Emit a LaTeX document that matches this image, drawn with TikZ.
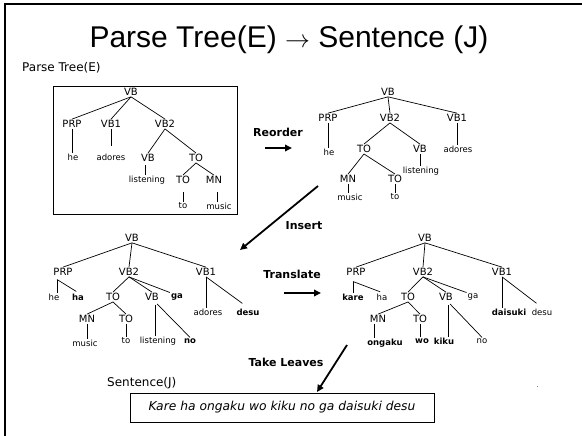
\documentclass[tikz,border=0pt]{standalone}
\usepackage{fontspec}
\setmainfont{DejaVu Sans}
\newfontfamily\headfont{Liberation Sans}
\usetikzlibrary{arrows.meta}
\begin{document}
\begin{tikzpicture}[x=1pt,y=-1pt,
  lbl/.style={inner sep=1pt,font=\fontsize{10}{11}\selectfont},
  leaf/.style={inner sep=1pt,font=\fontsize{8.5}{10}\selectfont},
  bleaf/.style={inner sep=1pt,font=\fontsize{8.5}{10}\selectfont\bfseries},
  opname/.style={inner sep=1pt,font=\fontsize{11}{13}\selectfont\bfseries},
  edge/.style={line width=0.7pt},
  bigarrow/.style={line width=1.8pt,-{Triangle[length=7pt,width=6.5pt]}}]
\useasboundingbox (0,0) rectangle (582,436);
% slide frame
\draw[line width=2pt] (5,436) -- (5,3.7) -- (582,3.7);
% title
\node[inner sep=0] (title) at (289,40) {\headfont\fontsize{30}{34}\selectfont Parse Tree(E) $\rightarrow$ Sentence (J)};
\node[inner sep=0,anchor=west,font=\fontsize{12}{14}\selectfont] (srclbl) at (22,68) {Parse Tree(E)};

% ---------- English parse tree ----------
\draw[line width=0.8pt] (53,86) rectangle (237,214);
\node[lbl] (a) at (131,92) {VB};
\node[lbl] (aprp) at (72,124) {PRP};
\node[lbl] (avbone) at (111,124) {VB1};
\node[lbl] (avbtwo) at (165,124) {VB2};
\node[leaf] (ahe) at (73,157) {he};
\node[leaf] (aadores) at (111,157) {adores};
\node[lbl] (avb) at (148,158) {VB};
\node[lbl] (ato) at (196,158) {TO};
\node[leaf] (alist) at (147,180) {listening};
\node[lbl] (atotwo) at (183,180) {TO};
\node[lbl] (amn) at (214,180) {MN};
\node[leaf] (ato3) at (183,206) {to};
\node[leaf] (amusic) at (219,206) {music};
\draw[edge] (a.south) -- (aprp.north);
\draw[edge] (a.south) -- (avbone.north);
\draw[edge] (a.south) -- (avbtwo.north);
\draw[edge] (aprp.south) -- (aprp.south |- ahe.north);
\draw[edge,shorten >=7pt] (avbone.south) -- (avbone.south |- aadores.north);
\draw[edge] (avbtwo.south) -- (avb.north);
\draw[edge] (avbtwo.south) -- (ato.north);
\draw[edge,shorten <=2pt] ([xshift=-3pt]avb.south) -- ([xshift=-3pt]avb.south |- alist.north);
\draw[edge] (ato.south) -- (atotwo.north);
\draw[edge] (ato.south) -- (amn.north);
\draw[edge,shorten <=7pt] (atotwo.south) -- (atotwo.south |- ato3.north);
\draw[edge,shorten <=7pt] ([xshift=3pt]amn.south) -- ([xshift=3pt]amn.south |- amusic.north);

% ---------- reordered tree ----------
\node[lbl] (b) at (388,92) {VB};
\node[lbl] (bprp) at (328,118) {PRP};
\node[lbl] (bvbtwo) at (390,118) {VB2};
\node[lbl] (bvbone) at (457,118) {VB1};
\node[leaf] (bhe) at (329,152) {he};
\node[lbl] (bto) at (364,149) {TO};
\node[lbl] (bvb) at (420,149) {VB};
\node[leaf] (badores) at (458,149) {adores};
\node[lbl] (bmn) at (348,179) {MN};
\node[lbl] (btotwo) at (395,179) {TO};
\node[leaf] (blist) at (421,171) {listening};
\node[leaf] (bmusic) at (350,197) {music};
\node[leaf] (bto3) at (395,197) {to};
\draw[edge] (b.south) -- (bprp.north);
\draw[edge] (b.south) -- (bvbtwo.north);
\draw[edge] (b.south) -- (bvbone.north);
\draw[edge] (bprp.south) -- (bprp.south |- bhe.north);
\draw[edge] (bvbtwo.south) -- (bto.north);
\draw[edge] (bvbtwo.south) -- (bvb.north);
\draw[edge] (bvbone.south) -- (bvbone.south |- badores.north);
\draw[edge] (bvb.south) -- (bvb.south |- blist.north);
\draw[edge] (bto.south) -- (bmn.north);
\draw[edge] (bto.south) -- (btotwo.north);
\draw[edge] (bmn.south) -- (bmn.south |- bmusic.north);
\draw[edge] (btotwo.south) -- (btotwo.south |- bto3.north);

% ---------- tree with inserted particles ----------
\node[lbl] (c) at (132,238) {VB};
\node[lbl] (cprp) at (63,272) {PRP};
\node[lbl] (cvbtwo) at (129,272) {VB2};
\node[lbl] (cvbone) at (206,272) {VB1};
\node[leaf] (che) at (54,297) {he};
\node[bleaf] (cha) at (78,297) {ha};
\node[lbl] (cto) at (113,297) {TO};
\node[lbl] (cvb) at (152,297) {VB};
\node[bleaf] (cga) at (177,297) {ga};
\node[leaf] (cadores) at (208,312) {adores};
\node[bleaf] (cdesu) at (248,312) {desu};
\node[lbl] (cmn) at (87,319) {MN};
\node[lbl] (ctotwo) at (126,319) {TO};
\node[leaf] (cmusic) at (85,343) {music};
\node[leaf] (cto3) at (126,341) {to};
\node[leaf] (clist) at (158,341) {listening};
\node[bleaf] (cno) at (190,341) {no};
\draw[edge] (c.south) -- (cprp.north);
\draw[edge] (c.south) -- (cvbtwo.north);
\draw[edge] (c.south) -- (cvbone.north);
\draw[edge] (che.north -| 57,0) ++(0,-13) coordinate (cprpj);
\draw[edge] (cprpj) -- (cprpj |- che.north);
\draw[edge,shorten >=2pt] (cprpj) -- (cha.north);
\draw[edge] (cvbtwo.south) -- (cto.north);
\draw[edge] (cvbtwo.south) -- (cvb.north);
\draw[edge] (cvbtwo.south) -- (cga.north west);
\draw[edge] (cto.south) -- (cmn.north);
\draw[edge] (cto.south) -- (ctotwo.north);
\draw[edge] (cmn.south) -- (cmn.south |- cmusic.north);
\draw[edge] (ctotwo.south) -- (ctotwo.south |- cto3.north);
\draw[edge,shorten <=3pt] ([xshift=3pt]cvb.south) -- ([xshift=3pt]cvb.south |- clist.north);
\draw[edge,shorten <=3pt] ([xshift=3pt]cvb.south) -- (cno.north);
\draw[edge] (cvbone.south) -- (cvbone.south |- cadores.north);
\draw[edge,shorten >=7pt] (cvbone.south) -- (cdesu.north);

% ---------- translated tree ----------
\node[lbl] (d) at (425,238) {VB};
\node[lbl] (dprp) at (356,272) {PRP};
\node[lbl] (dvbtwo) at (423,272) {VB2};
\node[lbl] (dvbone) at (502,272) {VB1};
\node[bleaf] (dkare) at (353,297) {kare};
\node[leaf] (dha) at (382,297) {ha};
\node[lbl] (dto) at (408,297) {TO};
\node[lbl] (dvb) at (446,297) {VB};
\node[leaf] (dga) at (473,297) {ga};
\node[bleaf] (ddaisuki) at (509,312) {daisuki};
\node[leaf] (ddesu) at (542,312) {desu};
\node[lbl] (dmn) at (378,319) {MN};
\node[lbl] (dtotwo) at (420,319) {TO};
\node[bleaf] (dongaku) at (385,343) {ongaku};
\node[bleaf] (dwo) at (422,341) {wo};
\node[bleaf] (dkiku) at (444,341) {kiku};
\node[leaf] (dno) at (482,341) {no};
\draw[edge] (d.south) -- (dprp.north);
\draw[edge] (d.south) -- (dvbtwo.north);
\draw[edge] (d.south) -- (dvbone.north);
\draw[edge] (dkare.north) ++(0,-11) coordinate (dprpj);
\draw[edge] (dprpj) -- (dkare.north);
\draw[edge,shorten >=2pt] (dprpj) -- (dha.north);
\draw[edge] (dvbtwo.south) -- (dto.north);
\draw[edge] (dvbtwo.south) -- (dvb.north);
\draw[edge] (dvbtwo.south) -- (dga.north west);
\draw[edge] (dto.south) -- (dmn.north);
\draw[edge] (dto.south) -- (dtotwo.north);
\draw[edge] ([xshift=-4pt]dmn.south) -- ([xshift=-4pt]dmn.south |- dongaku.north);
\draw[edge] (dtotwo.south) -- (dtotwo.south |- dwo.north);
\draw[edge,shorten <=3pt] ([xshift=2pt]dvb.south) -- ([xshift=2pt]dvb.south |- dkiku.north);
\draw[edge,shorten <=3pt] ([xshift=2pt]dvb.south) -- (dno.north);
\draw[edge] (dvbone.south) -- (dvbone.south |- ddaisuki.north);
\draw[edge,shorten >=7pt] (dvbone.south) -- (ddesu.north);

% ---------- transformation steps ----------
\node[opname] (reorder) at (278,132) {Reorder};
\coordinate (rs) at (265,148);
\coordinate (re) at (292,148);
\draw[bigarrow] (rs) -- (re);

\node[opname] (insert) at (304,226) {Insert};
\coordinate (is) at (318,186);
\coordinate (ie) at (240,250);
\draw[bigarrow] (is) -- (ie);

\node[opname] (translate) at (292,274) {Translate};
\coordinate (ts) at (284,293);
\coordinate (te) at (321,293);
\draw[bigarrow] (ts) -- (te);

\node[opname] (leaves) at (286,362) {Take Leaves};
\coordinate (ls) at (347,345);
\coordinate (le) at (317,392);
\draw[bigarrow] (ls) -- (le);

% ---------- resulting sentence ----------
\node[inner sep=0,anchor=west,font=\fontsize{12}{14}\selectfont] (tgtlbl) at (107,383) {Sentence(J)};
\node[draw,line width=0.7pt,minimum width=304pt,minimum height=29pt,inner sep=0,
      font=\fontsize{12.3}{14}\selectfont\itshape] (sentence) at (282,407.5)
      {Kare ha ongaku wo kiku no ga daisuki desu};
\fill[gray] (536.5,385.5) rectangle (538,386.5);
\end{tikzpicture}
\end{document}
